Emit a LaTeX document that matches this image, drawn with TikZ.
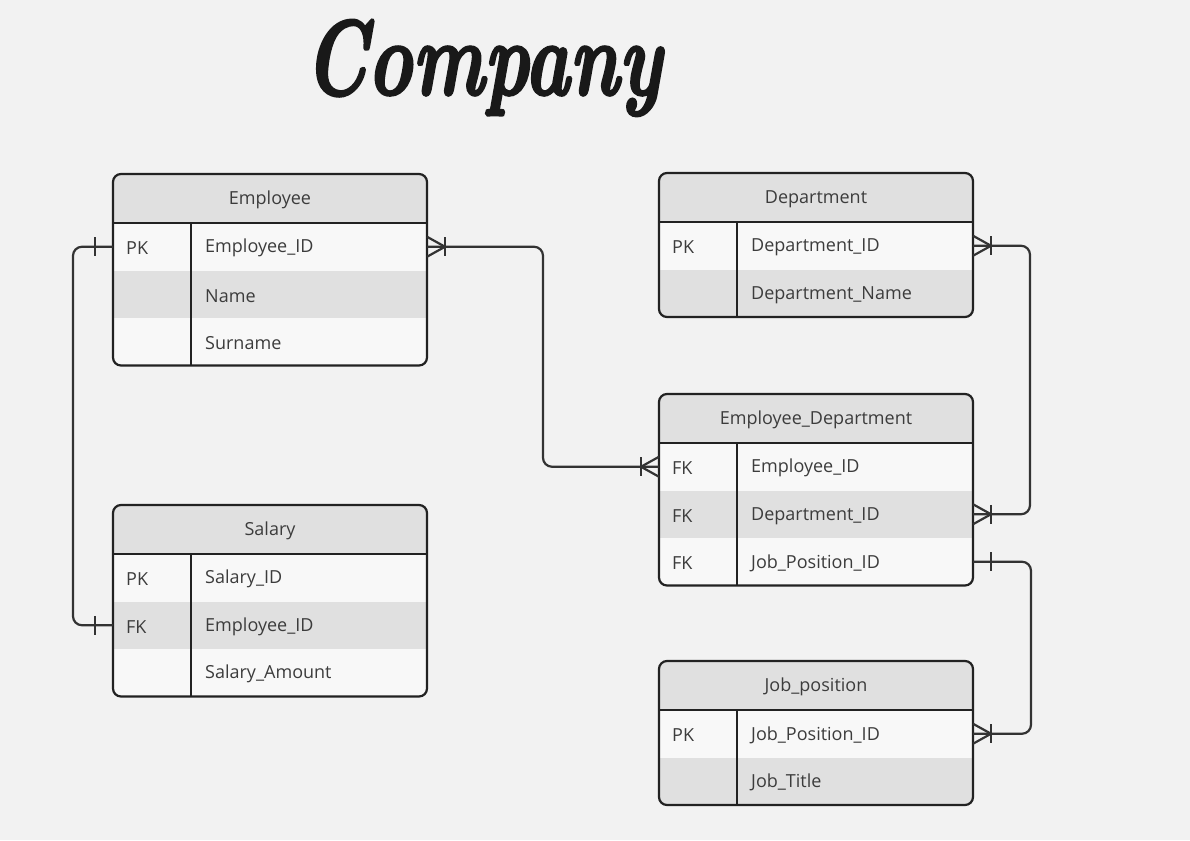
\documentclass[tikz,border=0pt]{standalone}
\usepackage{fontspec}
\setmainfont{Open Sans}
\newfontfamily\titlefont{lmroman10-bolditalic}[Extension=.otf, FakeBold=2.5]
\usetikzlibrary{calc}
\definecolor{bg}{HTML}{F2F2F2}
\definecolor{hdr}{HTML}{E0E0E0}
\definecolor{lite}{HTML}{F8F8F8}
\definecolor{ink}{HTML}{222222}
\definecolor{txt}{HTML}{3C3C3C}
\definecolor{wire}{HTML}{333333}
\tikzset{
  rowbox/.style={rectangle, inner sep=0pt, outer sep=0pt, minimum width=314pt, anchor=north west, draw=none},
  cell/.style={inner sep=0pt, text=txt, font=\fontsize{18}{21}\selectfont},
  tframe/.style={draw=ink, line width=2.2pt, rounded corners=8pt},
  tline/.style={draw=ink, line width=2.2pt},
  conn/.style={draw=wire, line width=2.2pt},
}
% #1 name, #2 x, #3 ytop, #4 fill, #5 key, #6 field
\newcommand{\errow}[6]{%
  \node[rowbox, fill=#4, minimum height=47.5pt] (#1) at (#2,#3) {};
  \node[cell, anchor=west] (#1-k) at ([xshift=13pt, yshift=-1.5pt]#1.west) {#5};
  \node[cell, anchor=west] (#1-f) at ([xshift=92pt, yshift=-1.5pt]#1.west) {#6};
}
% #1 name, #2 x, #3 ytop, #4 title
\newcommand{\erhead}[4]{%
  \node[rowbox, fill=hdr, minimum height=49pt] (#1) at (#2,#3) {};
  \node[cell] (#1-t) at ([yshift=-1.5pt]#1.center) {#4};
}
% #1 x, #2 ytop, #3 ybottom
\newcommand{\erframe}[3]{%
  \draw[tframe] (#1,#2) rectangle ($(#1,#3)+(314,0)$);
  \draw[tline] ($(#1,#2)+(0,49)$) -- ($(#1,#2)+(314,49)$);
  \draw[tline] ($(#1,#2)+(78,49)$) -- ($(#1,#3)+(78,0)$);
}
\newcommand{\barmark}[2]{\draw[conn] ($(#1)+(#2,-9.5)$) -- ($(#1)+(#2,9.5)$);}
\newcommand{\crowmark}[2]{\draw[conn] ($(#1)+(0,-10)$) -- ($(#1)+(#2,0)$) -- ($(#1)+(0,10)$); \barmark{#1}{#2}}
\begin{document}
\begin{tikzpicture}[x=1pt, y=-1pt]
\fill[bg] (0,0) rectangle (1190,840);
\useasboundingbox (0,0) rectangle (1190,840);

\node[font=\fontsize{76}{76}\titlefont, text=black!90, yscale=1.4, transform shape] (title) at (483,68) {Company};

% Employee
\begin{scope}
  \clip[rounded corners=8pt] (113,174) rectangle (427,365.5);
  \erhead{emp}{113}{174}{Employee}
  \errow{emp1}{113}{223}{lite}{PK}{Employee\_ID}
  \errow{emp2}{113}{270.5}{hdr}{}{Name}
  \errow{emp3}{113}{318}{lite}{}{Surname}
\end{scope}
\erframe{113}{174}{365.5}

% Salary
\begin{scope}
  \clip[rounded corners=8pt] (113,505) rectangle (427,696.5);
  \erhead{sal}{113}{505}{Salary}
  \errow{sal1}{113}{554}{lite}{PK}{Salary\_ID}
  \errow{sal2}{113}{601.5}{hdr}{FK}{Employee\_ID}
  \errow{sal3}{113}{649}{lite}{}{Salary\_Amount}
\end{scope}
\erframe{113}{505}{696.5}

% Department
\begin{scope}
  \clip[rounded corners=8pt] (659,173) rectangle (973,317);
  \erhead{dep}{659}{173}{Department}
  \errow{dep1}{659}{222}{lite}{PK}{Department\_ID}
  \errow{dep2}{659}{269.5}{hdr}{}{Department\_Name}
\end{scope}
\erframe{659}{173}{317}

% Employee_Department
\begin{scope}
  \clip[rounded corners=8pt] (659,394) rectangle (973,585.5);
  \erhead{ed}{659}{394}{Employee\_Department}
  \errow{ed1}{659}{443}{lite}{FK}{Employee\_ID}
  \errow{ed2}{659}{490.5}{hdr}{FK}{Department\_ID}
  \errow{ed3}{659}{538}{lite}{FK}{Job\_Position\_ID}
\end{scope}
\erframe{659}{394}{585.5}

% Job_position
\begin{scope}
  \clip[rounded corners=8pt] (659,661) rectangle (973,805);
  \erhead{job}{659}{661}{Job\_position}
  \errow{job1}{659}{710}{lite}{PK}{Job\_Position\_ID}
  \errow{job2}{659}{757.5}{hdr}{}{Job\_Title}
\end{scope}
\erframe{659}{661}{805}

% connectors
\draw[conn, rounded corners=9pt] (emp1.west) -- ++(-40,0) |- (sal2.west);
\barmark{emp1.west}{-18}
\barmark{sal2.west}{-18}

\draw[conn, rounded corners=9pt] (emp1.east) -- ++(116,0) |- (ed1.west);
\crowmark{emp1.east}{18}
\crowmark{ed1.west}{-18}

\draw[conn, rounded corners=9pt] (dep1.east) -- ++(57,0) |- (ed2.east);
\crowmark{dep1.east}{18}
\crowmark{ed2.east}{18}

\draw[conn, rounded corners=9pt] (ed3.east) -- ++(58,0) |- (job1.east);
\barmark{ed3.east}{18}
\crowmark{job1.east}{18}
\end{tikzpicture}
\end{document}
